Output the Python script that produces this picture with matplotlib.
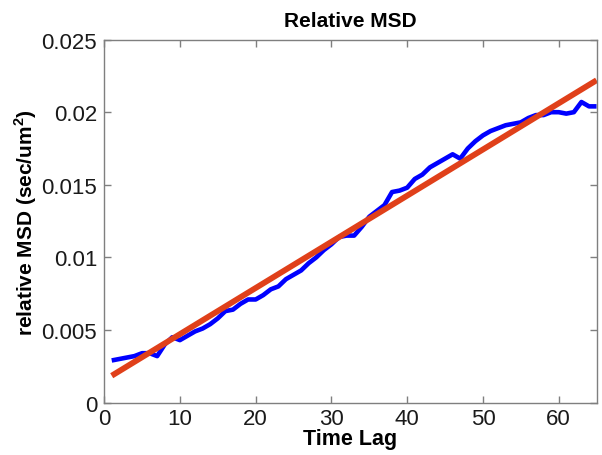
import numpy as np
import matplotlib
matplotlib.use("Agg")
import matplotlib.pyplot as plt

plt.rcParams['font.family'] = ['Liberation Sans', 'DejaVu Sans']
plt.rcParams['mathtext.fontset'] = 'custom'
plt.rcParams['mathtext.rm'] = 'Liberation Sans'
plt.rcParams['mathtext.bf'] = 'Liberation Sans:bold'

time_lag = list(range(1, 66))
msd = [0.0029, 0.0030, 0.0031, 0.0032, 0.0034, 0.0034, 0.0032, 0.0040, 0.0045, 0.0043,
       0.0046, 0.0049, 0.0051, 0.0054, 0.0058, 0.0063, 0.0064, 0.0068, 0.0071, 0.0071,
       0.0074, 0.0078, 0.0080, 0.0085, 0.0088, 0.0091, 0.0096, 0.0100, 0.0105, 0.0109,
       0.0114, 0.0115, 0.0115, 0.0121, 0.0128, 0.0132, 0.0136, 0.0145, 0.0146, 0.0148,
       0.0154, 0.0157, 0.0162, 0.0165, 0.0168, 0.0171, 0.0168, 0.0175, 0.0180, 0.0184,
       0.0187, 0.0189, 0.0191, 0.0192, 0.0193, 0.0196, 0.0198, 0.0198, 0.0200, 0.0200,
       0.0199, 0.0200, 0.0207, 0.0204, 0.0204]

# linear fit end points
fit_x = [1, 65]
fit_y = [0.00185, 0.0222]

xticks = [0, 10, 20, 30, 40, 50, 60]
yticks = [0, 0.005, 0.01, 0.015, 0.02, 0.025]
ytick_labels = ['0', '0.005', '0.01', '0.015', '0.02', '0.025']

fig = plt.figure(figsize=(6.02, 4.56), dpi=100)
ax = fig.add_axes([0.173, 0.115, 0.818, 0.796])

ax.plot(time_lag, msd, color='#0000ff', linewidth=3.3, solid_capstyle='butt')
ax.plot(fit_x, fit_y, color='#e0401a', linewidth=4.2, solid_capstyle='butt')

ax.set_xlim(0, 65)
ax.set_ylim(0, 0.025)
ax.set_xticks(xticks)
ax.set_yticks(yticks)
ax.set_yticklabels(ytick_labels)

for s in ax.spines.values():
    s.set_color('#7f7f7f')
    s.set_linewidth(1.0)
ax.tick_params(direction='in', top=True, right=True, length=5, width=1,
               color='#7f7f7f', labelsize=16, labelcolor='#1a1a1a')
ax.tick_params(axis='x', pad=4)
ax.tick_params(axis='y', pad=5)

ax.set_xlabel('Time Lag', fontsize=15.5, fontweight='bold', labelpad=-1)
ax.set_ylabel(r'relative MSD (sec/um$^{\mathbf{2}}$)', fontsize=15, fontweight='bold', labelpad=2)
ax.set_title('Relative MSD', fontsize=15, fontweight='bold', pad=10)

fig.savefig('out.png', dpi=100)
